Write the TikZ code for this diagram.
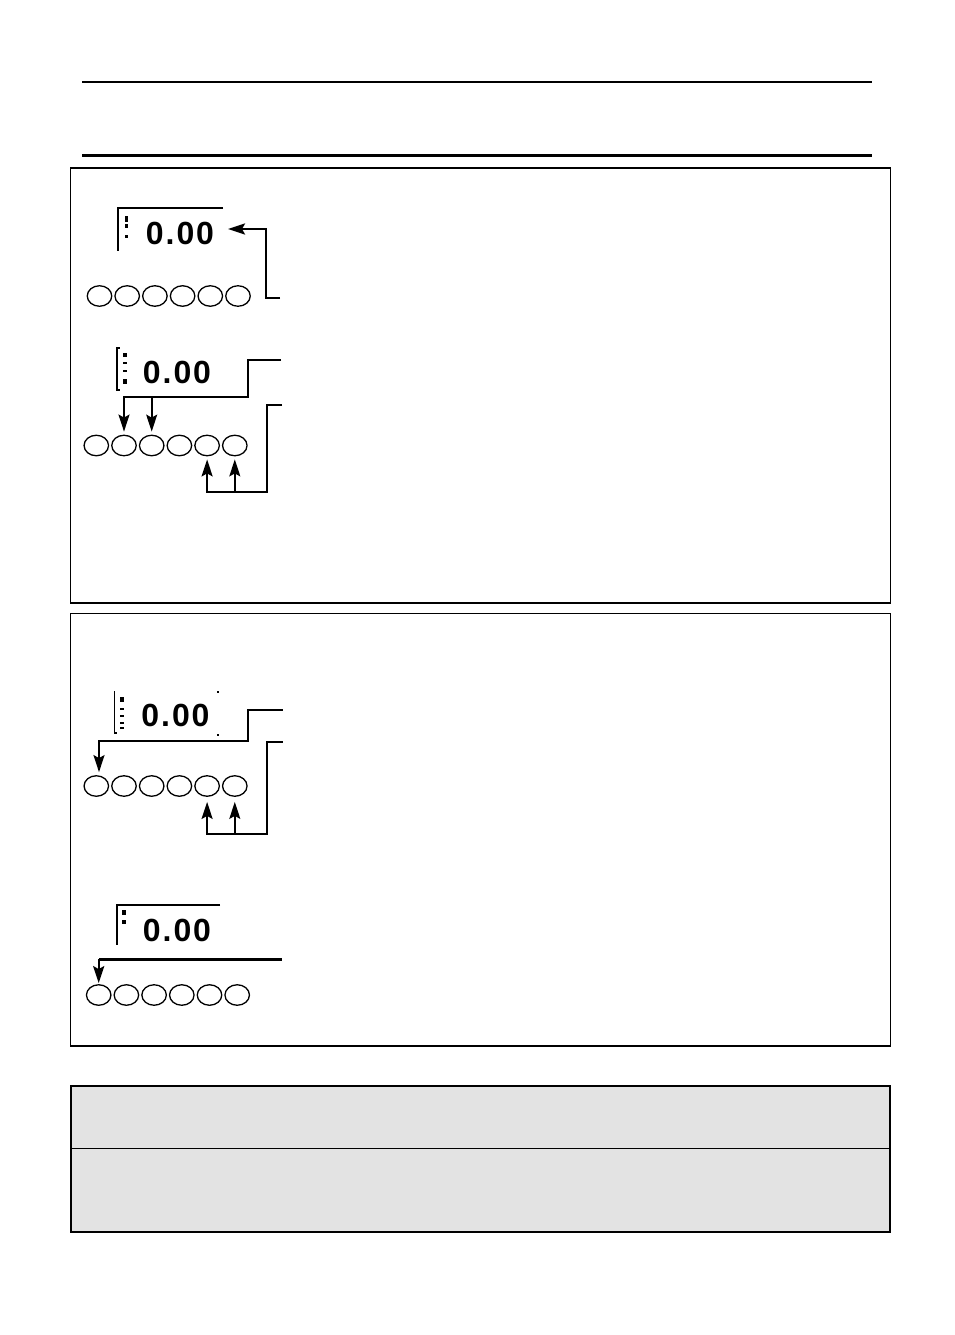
\documentclass[tikz,border=0pt]{standalone}
\usepackage{fontspec}
\setmainfont{Liberation Sans}
\usetikzlibrary{arrows.meta, positioning, shapes.geometric}

\begin{document}
\begin{tikzpicture}[x=1pt, y=-1pt,
    keybtn/.style={draw, ellipse, line width=1.3pt, inner sep=0pt, minimum width=24.5pt, minimum height=20.5pt},
    readout/.style={inner sep=0pt, font=\fontsize{32}{32}\selectfont\bfseries\addfontfeature{LetterSpace=6}},
    frame/.style={line width=1.2pt},
    wire/.style={line width=2.2pt},
    branch/.style={line width=1.6pt},
    tip/.style={-{Stealth[length=17pt, width=11pt, inset=3pt]}},
    seg/.style={line width=3.5pt},
]
  \useasboundingbox (0,0) rectangle (954,1335);

  % Header rules
  \draw[line width=2pt] (82,82) -- (872,82);
  \draw[line width=3pt] (82,155) -- (872,155);

  % Panels
  \draw[frame] (70.5,168) rectangle (890.5,603);
  \draw[frame] (70.5,613.5) rectangle (890.5,1046);

  % Grey note box
  \draw[line width=2pt, fill=black!11] (71,1086) rectangle (890,1232);
  \draw[line width=1pt] (71,1148) -- (890,1148);

  % Key rows
  \foreach \r/\x/\y in {a/99.5/296, b/96.3/445.5, c/96.3/786, d/98.7/995} {
      \foreach \i in {1,...,6} {
          \node[keybtn] (\r\i) at ({\x+27.7*(\i-1)},\y) {};
      }
  }

  % Readouts
  \node[readout] (dispa) at (180,233.5) {0.00};
  \node[readout] (dispb) at (177,372) {0.00};
  \node[readout] (dispc) at (175.5,715.5) {0.00};
  \node[readout] (dispd) at (177,930) {0.00};

  % Readout brackets
  \draw[line width=2.2pt] (223,208) -- (118,208) -- (118,250.5);
  \draw[line width=1.6pt] (119.5,347.7) -- (116.7,347.7) -- (116.7,390) -- (119.5,390);
  \draw[line width=1.6pt] (114.3,691) -- (114.3,733) -- (117,733);
  \draw[line width=1.6pt] (220,905) -- (116.7,905) -- (116.7,945);

  % Readout side marks
  \foreach \y/\l in {216/6, 224/4, 235/3} {
      \draw[seg] (126.5,\y) -- ++(0,\l);
  }
  \foreach \y/\l in {353/4, 362/2, 370/2, 379/5} {
      \draw[seg] (125,\y) -- ++(0,\l);
  }
  \foreach \y/\l in {697/5, 708/2, 715/2, 722/2, 727/2} {
      \draw[seg] (122,\y) -- ++(0,\l);
  }
  \foreach \y/\l in {910/5, 920/4} {
      \draw[seg] (124,\y) -- ++(0,\l);
  }
  \fill (217,691) rectangle (219,693);
  \fill (217,734) rectangle (219,736);

  % Signal into first readout
  \coordinate (ain) at (280,298);
  \coordinate (atip) at (228,229);
  \draw[wire, tip] (ain) -- (266,298) |- (atip);

  % Second group
  \coordinate (bin) at (281,360);
  \coordinate (bbus) at (248,397.3);
  \draw[wire, tip, shorten >=3pt] (bin) -| (bbus) -- (bbus -| b2.north) -- (b2.north);
  \draw[branch, tip, shorten >=3pt] (bbus -| b3.north) -- (b3.north);
  \coordinate (bfeed) at (282,405);
  \coordinate (bfoot) at (267.3,491.7);
  \draw[wire, tip, shorten >=3pt] (bfeed) -| (bfoot) -- (bfoot -| b5.south) -- (b5.south);
  \draw[branch, tip, shorten >=3pt] (bfoot -| b6.south) -- (b6.south);

  % Third group
  \coordinate (cin) at (282.7,710);
  \coordinate (cbus) at (248,740.7);
  \coordinate (ctip) at ([xshift=2.7pt]c1.north);
  \draw[wire, tip, shorten >=3pt] (cin) -| (cbus) -- (cbus -| ctip) -- (ctip);
  \coordinate (cfeed) at (282.7,741.7);
  \coordinate (cfoot) at (267.3,834.3);
  \draw[wire, tip, shorten >=5pt] (cfeed) -| (cfoot) -- (cfoot -| c5.south) -- (c5.south);
  \draw[branch, tip, shorten >=5pt] (cfoot -| c6.south) -- (c6.south);

  % Fourth group
  \coordinate (din) at (281.7,959);
  \draw[line width=3pt] (din) -- (din -| d1.north);
  \draw[wire, tip, shorten >=1pt] (din -| d1.north) -- (d1.north);
\end{tikzpicture}
\end{document}
